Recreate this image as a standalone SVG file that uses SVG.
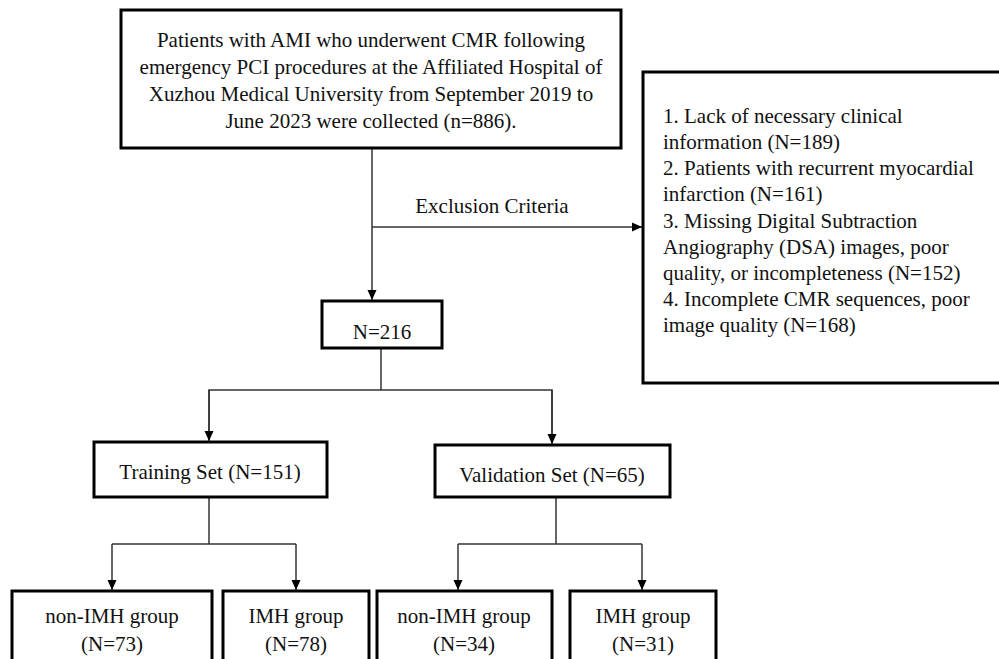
<svg xmlns="http://www.w3.org/2000/svg" width="999" height="659" viewBox="0 0 999 659">
<defs>
<style>
.box{fill:#fff;stroke:#000;stroke-width:3}
.t{font-family:"Liberation Serif","Times New Roman",serif;font-size:21px;fill:#111}
.c{text-anchor:middle}
.ln{fill:none;stroke:#333;stroke-width:1.5}
</style>
<marker id="ah" viewBox="0 0 10 10" refX="10" refY="5" markerWidth="10" markerHeight="10" markerUnits="userSpaceOnUse" orient="auto">
<path d="M0,0.5 L10,5 L0,9.5 Z" fill="#000"/>
</marker>
</defs>
<rect width="999" height="659" fill="#fff"/>
<g id="connectors">
<line class="ln" x1="372" y1="148" x2="372" y2="300" marker-end="url(#ah)"/>
<line class="ln" x1="372" y1="227" x2="642" y2="227" marker-end="url(#ah)"/>
<text class="t c" x="492" y="213">Exclusion Criteria</text>
<polyline class="ln" points="381,348 381,390"/>
<polyline class="ln" points="209,440 209,390 552,390 552,443"/>
<line class="ln" x1="209" y1="390" x2="209" y2="441" marker-end="url(#ah)"/>
<line class="ln" x1="552" y1="390" x2="552" y2="444" marker-end="url(#ah)"/>
<polyline class="ln" points="209,497 209,544"/>
<polyline class="ln" points="112,544 296,544"/>
<line class="ln" x1="112" y1="544" x2="112" y2="590" marker-end="url(#ah)"/>
<line class="ln" x1="296" y1="544" x2="296" y2="590" marker-end="url(#ah)"/>
<polyline class="ln" points="556,497 556,544"/>
<polyline class="ln" points="458,544 642,544"/>
<line class="ln" x1="458" y1="544" x2="458" y2="590" marker-end="url(#ah)"/>
<line class="ln" x1="642" y1="544" x2="642" y2="590" marker-end="url(#ah)"/>
</g>
<g id="n_start">
<rect class="box" x="121" y="10" width="500" height="138"/>
<text class="t c" x="371" y="47">Patients with AMI who underwent CMR following</text>
<text class="t c" x="371" y="74">emergency PCI procedures at the Affiliated Hospital of</text>
<text class="t c" x="371" y="101">Xuzhou Medical University from September 2019 to</text>
<text class="t c" x="371" y="128">June 2023 were collected (n=886).</text>
</g>
<g id="n_exclusion">
<rect class="box" x="643" y="72" width="370" height="311"/>
<text class="t" x="663" y="123">1. Lack of necessary clinical</text>
<text class="t" x="663" y="149">information (N=189)</text>
<text class="t" x="663" y="175">2. Patients with recurrent myocardial</text>
<text class="t" x="663" y="201">infarction (N=161)</text>
<text class="t" x="663" y="228">3. Missing Digital Subtraction</text>
<text class="t" x="663" y="254">Angiography (DSA) images, poor</text>
<text class="t" x="663" y="280">quality, or incompleteness (N=152)</text>
<text class="t" x="663" y="306">4. Incomplete CMR sequences, poor</text>
<text class="t" x="663" y="332">image quality (N=168)</text>
</g>
<g id="n_216">
<rect class="box" x="322" y="301" width="120" height="47"/>
<text class="t c" x="382" y="339">N=216</text>
</g>
<g id="n_training">
<rect class="box" x="94" y="442" width="233" height="55"/>
<text class="t c" x="210" y="479">Training Set (N=151)</text>
</g>
<g id="n_validation">
<rect class="box" x="435" y="445" width="235" height="52"/>
<text class="t c" x="552" y="482">Validation Set (N=65)</text>
</g>
<g id="n_train_nonimh">
<rect class="box" x="12" y="591" width="200" height="80"/>
<text class="t c" x="112" y="623">non-IMH group</text>
<text class="t c" x="112" y="651">(N=73)</text>
</g>
<g id="n_train_imh">
<rect class="box" x="223" y="591" width="146" height="80"/>
<text class="t c" x="296" y="623">IMH group</text>
<text class="t c" x="296" y="651">(N=78)</text>
</g>
<g id="n_val_nonimh">
<rect class="box" x="377" y="591" width="175" height="80"/>
<text class="t c" x="464" y="623">non-IMH group</text>
<text class="t c" x="464" y="651">(N=34)</text>
</g>
<g id="n_val_imh">
<rect class="box" x="570" y="591" width="146" height="80"/>
<text class="t c" x="643" y="623">IMH group</text>
<text class="t c" x="643" y="651">(N=31)</text>
</g>
</svg>
